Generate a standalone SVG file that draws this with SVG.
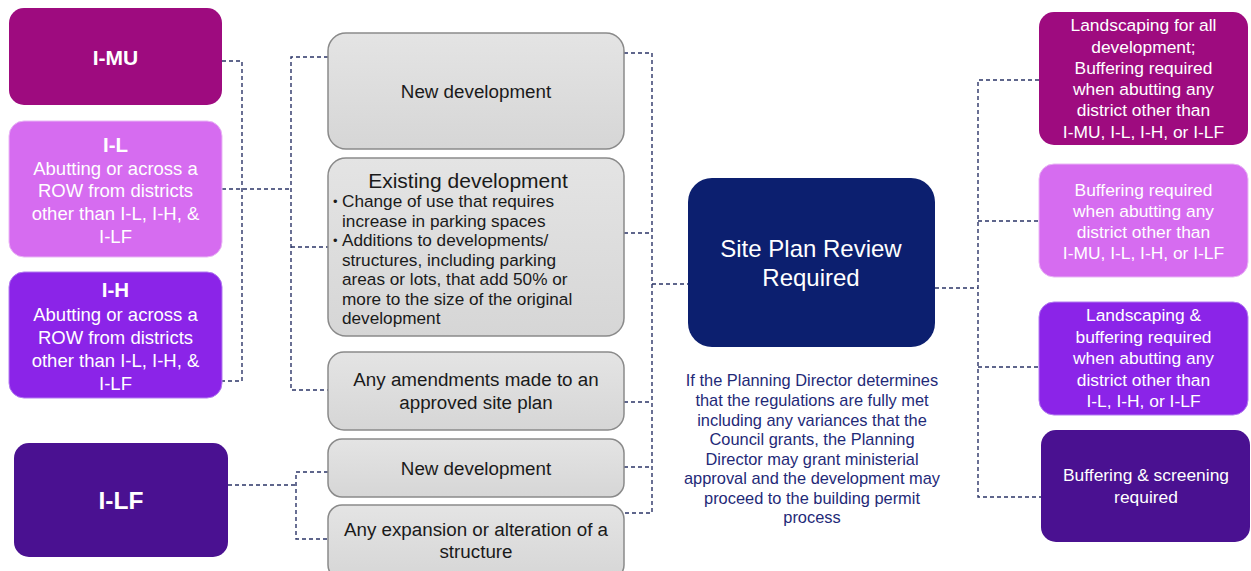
<svg xmlns="http://www.w3.org/2000/svg" width="1251" height="571" viewBox="0 0 1251 571">
<defs>
<linearGradient id="gr" x1="0" y1="0" x2="0" y2="1"><stop offset="0" stop-color="#E4E4E4"/><stop offset="1" stop-color="#D6D6D6"/></linearGradient>
<style>
text{font-family:"Liberation Sans",Arial,sans-serif;}
.w{fill:#FFFFFF;text-anchor:middle;}
.b{font-weight:bold;}
.k{fill:#1A1A1A;text-anchor:middle;font-size:18.8px;}
.g{fill:url(#gr);stroke:#8A8A8A;stroke-width:1.5;}
.c1{fill:#9E0B7F;}
.c2{fill:#D66CF0;stroke:#E9B6F5;stroke-width:1;}
.c3{fill:#8B24E8;stroke:#B27AF0;stroke-width:1;}
.c4{fill:#4A1191;}
.nv{fill:#0C1F6F;}
.lt{font-size:18.5px;}
.rt{font-size:17.4px;}
.bl{fill:#1A1A1A;font-size:17.2px;}
.dot{fill:#1A1A1A;font-size:13px;}
.nt{fill:#1F2A78;font-size:16.4px;text-anchor:middle;}
.cn{fill:none;stroke:#2B3467;stroke-width:1.4;stroke-dasharray:4 3;}
</style>
</defs>
<rect width="1251" height="571" fill="#FFFFFF"/>
<g id="connectors">
<path class="cn" d="M222 61H242V381H222"/>
<path class="cn" d="M222 189H291"/>
<path class="cn" d="M328 57H291V390H328"/>
<path class="cn" d="M291 247H328"/>
<path class="cn" d="M228 485H296"/>
<path class="cn" d="M328 472H296V539H328"/>
<path class="cn" d="M624 53H652V513H624"/>
<path class="cn" d="M624 233H652"/>
<path class="cn" d="M624 402H652"/>
<path class="cn" d="M624 467H652"/>
<path class="cn" d="M652 284H688"/>
<path class="cn" d="M935 288H978"/>
<path class="cn" d="M1039 80H978V497H1041"/>
<path class="cn" d="M978 221H1039"/>
<path class="cn" d="M978 367H1039"/>
</g>
<g id="imu">
<rect class="c1" x="9" y="8" width="213" height="97" rx="15"/>
<text class="w b" x="115.5" y="64.5" font-size="21">I-MU</text>
</g>
<g id="il">
<rect class="c2" x="9" y="121" width="213" height="136" rx="15"/>
<text class="w b" x="115.5" y="152" font-size="20.5">I-L</text>
<text class="w lt" x="115.5" y="174.5">Abutting or across a</text>
<text class="w lt" x="115.5" y="197">ROW from districts</text>
<text class="w lt" x="115.5" y="220">other than I-L, I-H, &amp;</text>
<text class="w lt" x="115.5" y="243">I-LF</text>
</g>
<g id="ih">
<rect class="c3" x="9" y="272" width="213" height="126" rx="15"/>
<text class="w b" x="115.5" y="297" font-size="20.5">I-H</text>
<text class="w lt" x="115.5" y="321">Abutting or across a</text>
<text class="w lt" x="115.5" y="343.5">ROW from districts</text>
<text class="w lt" x="115.5" y="366.5">other than I-L, I-H, &amp;</text>
<text class="w lt" x="115.5" y="389.5">I-LF</text>
</g>
<g id="ilf">
<rect class="c4" x="14" y="443" width="214" height="114" rx="15"/>
<text class="w b" x="121" y="509" font-size="24.5">I-LF</text>
</g>
<g id="newdev1">
<rect class="g" x="328" y="33" width="296" height="116" rx="18"/>
<text class="k" x="476" y="97.5">New development</text>
</g>
<g id="existing">
<rect class="g" x="328" y="158" width="296" height="178" rx="18"/>
<text class="k" x="468" y="187.5" style="font-size:21px">Existing development</text>
<text class="dot" x="333" y="206">•</text>
<text class="bl" x="342" y="207">Change of use that requires</text>
<text class="bl" x="342" y="226.5">increase in parking spaces</text>
<text class="dot" x="333" y="245">•</text>
<text class="bl" x="342" y="246">Additions to developments/</text>
<text class="bl" x="342" y="265.5">structures, including parking</text>
<text class="bl" x="342" y="285">areas or lots, that add 50% or</text>
<text class="bl" x="342" y="304.5">more to the size of the original</text>
<text class="bl" x="342" y="324">development</text>
</g>
<g id="amend">
<rect class="g" x="328" y="352" width="296" height="78" rx="16"/>
<text class="k" x="476" y="386">Any amendments made to an</text>
<text class="k" x="476" y="409">approved site plan</text>
</g>
<g id="newdev2">
<rect class="g" x="328" y="439" width="296" height="58" rx="14"/>
<text class="k" x="476" y="475">New development</text>
</g>
<g id="expansion">
<rect class="g" x="328" y="505" width="296" height="74" rx="14"/>
<text class="k" x="476" y="536">Any expansion or alteration of a</text>
<text class="k" x="476" y="558">structure</text>
</g>
<g id="siteplan">
<rect class="nv" x="688" y="178" width="247" height="169" rx="24"/>
<text class="w" x="811" y="256.5" font-size="24">Site Plan Review</text>
<text class="w" x="811" y="285.5" font-size="24">Required</text>
</g>
<g id="note">
<text class="nt" x="812" y="386">If the Planning Director determines</text>
<text class="nt" x="812" y="406">that the regulations are fully met</text>
<text class="nt" x="812" y="425.5">including any variances that the</text>
<text class="nt" x="812" y="445">Council grants, the Planning</text>
<text class="nt" x="812" y="464.5">Director may grant ministerial</text>
<text class="nt" x="812" y="484">approval and the development may</text>
<text class="nt" x="812" y="503.5">proceed to the building permit</text>
<text class="nt" x="812" y="523">process</text>
</g>
<g id="r1">
<rect class="c1" x="1039" y="12" width="209" height="133" rx="15"/>
<text class="w rt" x="1143.5" y="31">Landscaping for all</text>
<text class="w rt" x="1143.5" y="52.5">development;</text>
<text class="w rt" x="1143.5" y="73.5">Buffering required</text>
<text class="w rt" x="1143.5" y="95">when abutting any</text>
<text class="w rt" x="1143.5" y="116">district other than</text>
<text class="w rt" x="1143.5" y="137.5">I-MU, I-L, I-H, or I-LF</text>
</g>
<g id="r2">
<rect class="c2" x="1039" y="164" width="209" height="113" rx="15"/>
<text class="w rt" x="1143.5" y="196">Buffering required</text>
<text class="w rt" x="1143.5" y="217">when abutting any</text>
<text class="w rt" x="1143.5" y="238">district other than</text>
<text class="w rt" x="1143.5" y="259">I-MU, I-L, I-H, or I-LF</text>
</g>
<g id="r3">
<rect class="c3" x="1039" y="302" width="209" height="113" rx="15"/>
<text class="w rt" x="1143.5" y="321">Landscaping &amp;</text>
<text class="w rt" x="1143.5" y="343">buffering required</text>
<text class="w rt" x="1143.5" y="364">when abutting any</text>
<text class="w rt" x="1143.5" y="386">district other than</text>
<text class="w rt" x="1143.5" y="407">I-L, I-H, or I-LF</text>
</g>
<g id="r4">
<rect class="c4" x="1041" y="430" width="209" height="112" rx="15"/>
<text class="w rt" x="1146" y="481">Buffering &amp; screening</text>
<text class="w rt" x="1146" y="503">required</text>
</g>
</svg>
